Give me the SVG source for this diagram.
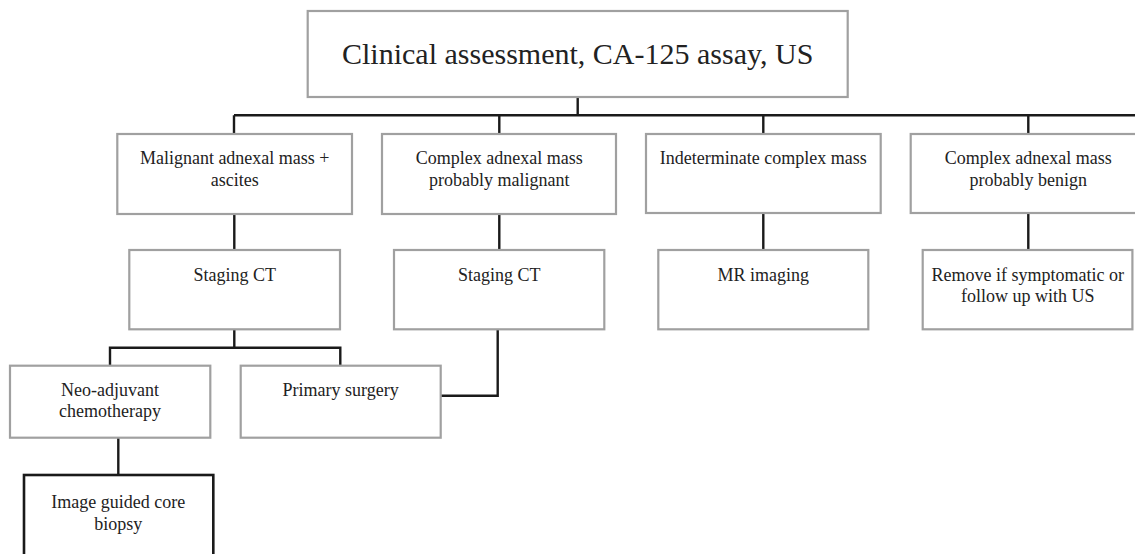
<svg xmlns="http://www.w3.org/2000/svg" width="1135" height="554" viewBox="0 0 1135 554">
<style>
.box{fill:#fff;stroke:#a0a0a0;stroke-width:2.2}
.bbox{fill:#fff;stroke:#1a1a1a;stroke-width:2.6}
.t{font-family:"Liberation Serif","Times New Roman",serif;font-size:18px;fill:#222;text-anchor:middle}
.tt{font-family:"Liberation Serif","Times New Roman",serif;font-size:30px;fill:#222;text-anchor:middle}
.c{fill:none;stroke:#1a1a1a;stroke-width:2.4}
</style>
<rect width="1135" height="554" fill="#fff"/>
<g id="connectors">
<path class="c" d="M577.7 97 V115.3 M234 115.3 H1135 M234 115.3 V134 M499.3 115.3 V134 M763.3 115.3 V134 M1028.3 115.3 V134"/>
<path class="c" d="M234.3 214 V250 M499.3 214 V250 M763.3 213 V250 M1028.3 213 V250"/>
<path class="c" d="M234.3 329 V347.7 M110 365.7 V347.7 H340.3 V365.7"/>
<path class="c" d="M497.7 329 V395.7 H440.7"/>
<path class="c" d="M118.3 437.7 V475"/>
</g>
<g id="n-top"><rect class="box" x="307.7" y="11" width="540" height="86"/><text class="tt" x="577.7" y="64">Clinical assessment, CA-125 assay, US</text></g>
<g id="n-malig"><rect class="box" x="117.3" y="134" width="234.7" height="80"/><text class="t" x="234.7" y="164.3">Malignant adnexal mass +</text><text class="t" x="234.7" y="185.7">ascites</text></g>
<g id="n-cpm"><rect class="box" x="382" y="134" width="234" height="80"/><text class="t" x="499.3" y="164.3">Complex adnexal mass</text><text class="t" x="499.3" y="185.7">probably malignant</text></g>
<g id="n-indet"><rect class="box" x="646" y="134" width="234.7" height="79"/><text class="t" x="763.3" y="164.3">Indeterminate complex mass</text></g>
<g id="n-cpb"><rect class="box" x="910.7" y="134" width="235" height="79"/><text class="t" x="1028.3" y="164.3">Complex adnexal mass</text><text class="t" x="1028.3" y="185.7">probably benign</text></g>
<g id="n-ct1"><rect class="box" x="129.3" y="250" width="210.7" height="79.3"/><text class="t" x="234.7" y="281">Staging CT</text></g>
<g id="n-ct2"><rect class="box" x="394" y="250" width="210.3" height="79.3"/><text class="t" x="499.3" y="281">Staging CT</text></g>
<g id="n-mr"><rect class="box" x="658.3" y="250" width="210" height="79.3"/><text class="t" x="763.3" y="281">MR imaging</text></g>
<g id="n-remove"><rect class="box" x="922.7" y="250" width="209.7" height="79.3"/><text class="t" x="1027.7" y="281">Remove if symptomatic or</text><text class="t" x="1027.7" y="301.7">follow up with US</text></g>
<g id="n-neo"><rect class="box" x="10" y="365.7" width="200.3" height="72"/><text class="t" x="110" y="395.7">Neo-adjuvant</text><text class="t" x="110" y="416.7">chemotherapy</text></g>
<g id="n-surg"><rect class="box" x="240.7" y="365.7" width="200" height="72"/><text class="t" x="340.7" y="395.7">Primary surgery</text></g>
<g id="n-biopsy"><rect class="bbox" x="24" y="475" width="189.3" height="100"/><text class="t" x="118.3" y="508.3">Image guided core</text><text class="t" x="118.3" y="530">biopsy</text></g>
</svg>
